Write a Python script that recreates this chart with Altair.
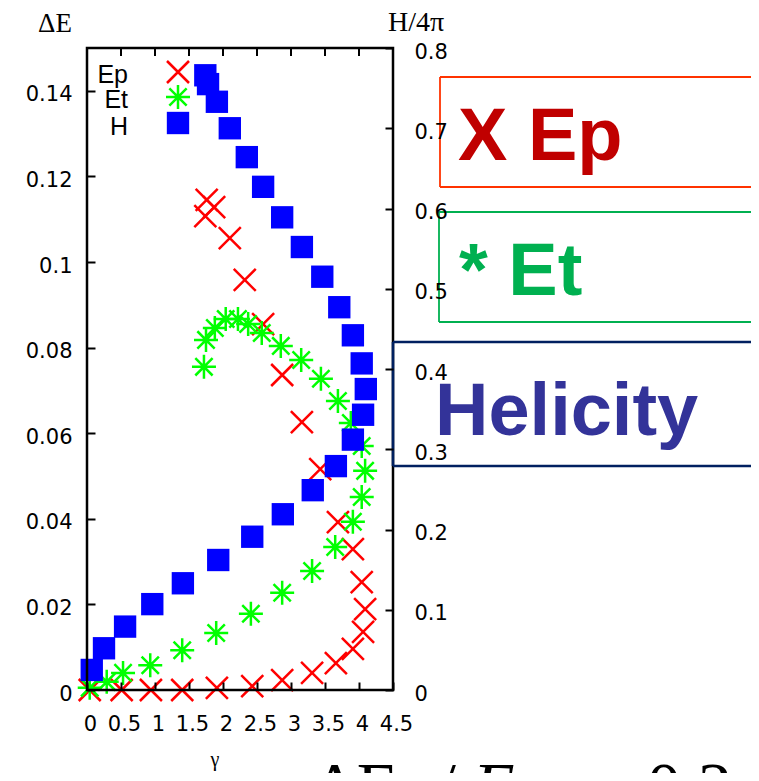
import altair as alt
import pandas as pd

# ---------------- data ----------------
gamma_ep = [0.04, 0.51, 0.94, 1.40, 1.91, 2.43, 2.87, 3.31, 3.66, 3.91, 4.06, 4.09,
            4.04, 3.91, 3.69, 3.43, 3.16, 2.87, 2.59, 2.32, 2.10, 1.74, 1.87, 1.76]
ep = [0.0, 0.0, 0.0, 0.0, 0.0005, 0.0009, 0.0023, 0.0040, 0.0063, 0.0096, 0.0136, 0.0189,
      0.0252, 0.0329, 0.0392, 0.0516, 0.0626, 0.0736, 0.0855, 0.0958, 0.1056, 0.1107, 0.1128, 0.1145]

gamma_et = [0.04, 0.29, 0.53, 0.93, 1.40, 1.90, 2.41, 2.87, 3.31, 3.65, 3.91, 4.04, 4.09,
            4.04, 3.88, 3.69, 3.44, 3.15, 2.85, 2.57, 2.37, 2.22, 2.04, 1.88, 1.75, 1.72]
et = [0.0005, 0.0019, 0.0040, 0.0058, 0.0093, 0.0133, 0.0178, 0.0227, 0.0278, 0.0334, 0.0393,
      0.0451, 0.0512, 0.0570, 0.0624, 0.0675, 0.0727, 0.0771, 0.0804, 0.0834, 0.0855, 0.0867,
      0.0867, 0.0846, 0.0818, 0.0755]

gamma_h = [0.07, 0.25, 0.56, 0.96, 1.41, 1.93, 2.43, 2.88, 3.32, 3.66, 3.91, 4.06, 4.10,
           4.04, 3.91, 3.71, 3.46, 3.16, 2.87, 2.59, 2.35, 2.10, 1.91, 1.78, 1.74]
h = [0.025, 0.052, 0.079, 0.107, 0.133, 0.162, 0.191, 0.219, 0.249, 0.279, 0.312, 0.343, 0.375,
     0.407, 0.442, 0.477, 0.515, 0.552, 0.589, 0.627, 0.664, 0.700, 0.733, 0.755, 0.766]

x_ticks = [0, 0.5, 1, 1.5, 2, 2.5, 3, 3.5, 4, 4.5]
left_ticks = [0, 0.02, 0.04, 0.06, 0.08, 0.1, 0.12, 0.14]
right_ticks = [0, 0.1, 0.2, 0.3, 0.4, 0.5, 0.6, 0.7, 0.8]

legend_labels = ["Ep", "Et", "H"]
box_labels = ["X Ep", "* Et", "Helicity"]
left_title = "ΔE"
right_title = "H/4π"
x_title = "γ"
bottom_parts = ["ΔE", "/", "E", "~", "0.2"]

# ---------------- helpers ----------------
def series(g, v):
    return pd.DataFrame({"gamma": g, "value": v})

df_ep = series(gamma_ep, ep)
df_et = series(gamma_et, et)
df_h = series(gamma_h, h)
df_xt = pd.DataFrame({"gamma": x_ticks})
one = pd.DataFrame({"k": [0]})

X_PATH = "M-1,-1L1,1M-1,1L1,-1"
STAR_PATH = "M-1,0L1,0M0,-1L0,1M-0.72,-0.72L0.72,0.72M-0.72,0.72L0.72,-0.72"

RED = "#FF0000"
GREEN = "#00FF00"
BLUE = "#0000FF"

W, HGT = 306, 642

xs = alt.Scale(domain=[0, 4.5], nice=False, zero=False)
yls = alt.Scale(domain=[0, 0.15], nice=False, zero=False)
yrs = alt.Scale(domain=[0, 0.8], nice=False, zero=False)

common_axis = dict(title=None, domain=False, grid=False, tickSize=8, tickWidth=2,
                   tickColor="black", offset=-8, labelFont="DejaVu Sans", labelFontSize=21,
                   labelColor="black", labelOverlap=False, labelFlush=False, zindex=1,
                   format="~g")
xaxis = alt.Axis(values=x_ticks, orient="bottom", labelPadding=23, labelOffset=3, **common_axis)
ylaxis = alt.Axis(values=left_ticks, orient="left", labelPadding=15, labelOffset=4, **common_axis)
yraxis = alt.Axis(values=right_ticks, orient="right", labelPadding=21, labelOffset=4, **common_axis)

X = alt.X("gamma:Q", scale=xs, axis=xaxis)
YL = alt.Y("value:Q", scale=yls, axis=ylaxis)
YR = alt.Y("value:Q", scale=yrs, axis=yraxis)

ep_pts = alt.Chart(df_ep).mark_point(shape=X_PATH, size=484, filled=False, color=RED,
                                     strokeWidth=2.5, opacity=1).encode(x=X, y=YL)
et_pts = alt.Chart(df_et).mark_point(shape=STAR_PATH, size=576, filled=False, color=GREEN,
                                     strokeWidth=2.5, opacity=1).encode(x=X, y=YL)
top_ticks = alt.Chart(df_xt).mark_rule(color="black", strokeWidth=2).encode(
    x=X, y=alt.value(0), y2=alt.value(8))

left_group = alt.layer(ep_pts, et_pts, top_ticks)

h_pts = alt.Chart(df_h).mark_point(shape="square", size=500, filled=True, color=BLUE,
                                   opacity=1).encode(x=X, y=YR)
right_group = alt.layer(h_pts)

frame = alt.Chart(one).mark_rect(filled=False, color="black", strokeWidth=2.5).encode(
    x=alt.value(0), x2=alt.value(W), y=alt.value(0), y2=alt.value(HGT))

# legend (labels left of symbols)
leg = []
leg_y = [35, 60, 87]
for lab, yy in zip(legend_labels, leg_y):
    leg.append(alt.Chart(one).mark_text(text=lab, align="right", baseline="alphabetic",
                                        font="Liberation Sans", fontSize=25, color="black")
               .encode(x=alt.value(41), y=alt.value(yy)))
leg.append(alt.Chart(one).mark_point(shape=X_PATH, size=484, filled=False, color=RED,
                                     strokeWidth=2.5, opacity=1)
           .encode(x=alt.value(91), y=alt.value(24)))
leg.append(alt.Chart(one).mark_point(shape=STAR_PATH, size=576, filled=False, color=GREEN,
                                     strokeWidth=2.5, opacity=1)
           .encode(x=alt.value(91), y=alt.value(49)))
leg.append(alt.Chart(one).mark_point(shape="square", size=500, filled=True, color=BLUE,
                                     opacity=1)
           .encode(x=alt.value(91), y=alt.value(75)))

# titles
titles = [
    alt.Chart(one).mark_text(text=left_title, align="center", baseline="alphabetic",
                             font="Liberation Serif", fontSize=27, color="black")
    .encode(x=alt.value(-32), y=alt.value(-16)),
    alt.Chart(one).mark_text(text=right_title, align="center", baseline="alphabetic",
                             font="Liberation Serif", fontSize=28, color="black")
    .encode(x=alt.value(329), y=alt.value(-17)),
    alt.Chart(one).mark_text(text=x_title, align="center", baseline="alphabetic",
                             font="Liberation Serif", fontSize=20, color="black")
    .encode(x=alt.value(128), y=alt.value(718)),
]

# big bottom expression (clipped by the page edge)
bx = [226, 350, 386, 513, 560]
bstyle = ["normal", "normal", "italic", "normal", "normal"]
bottom = []
for txt, xx, st in zip(bottom_parts, bx, bstyle):
    bottom.append(alt.Chart(one).mark_text(text=txt, align="left", baseline="alphabetic",
                                           font="Liberation Serif", fontSize=68, fontStyle=st,
                                           color="black")
                  .encode(x=alt.value(xx), y=alt.value(761)))

# open boxes (top, left and bottom edges; they run off the right edge)
RIGHT_END = 900
box_edges = [
    ("#FF3300", 1.8, 353, 29, 139),
    ("#00B050", 1.8, 352, 164, 274),
    ("#002060", 2.6, 306, 294, 418),
]
boxes = []
for col, sw, x0, y0, y1 in box_edges:
    boxes.append(alt.Chart(one).mark_rule(color=col, strokeWidth=sw).encode(
        x=alt.value(x0), x2=alt.value(RIGHT_END), y=alt.value(y0)))
    boxes.append(alt.Chart(one).mark_rule(color=col, strokeWidth=sw).encode(
        x=alt.value(x0), x2=alt.value(RIGHT_END), y=alt.value(y1)))
    boxes.append(alt.Chart(one).mark_rule(color=col, strokeWidth=sw).encode(
        x=alt.value(x0), y=alt.value(y0), y2=alt.value(y1)))

box_x = [371, 372, 348]
box_y = [112, 247, 387]
box_col = ["#C00000", "#00B050", "#333399"]
for lab, xx, yy, c in zip(box_labels, box_x, box_y, box_col):
    boxes.append(alt.Chart(one).mark_text(text=lab, align="left", baseline="alphabetic",
                                          font="Liberation Sans", fontSize=74, fontWeight="bold",
                                          color=c)
                 .encode(x=alt.value(xx), y=alt.value(yy)))

chart = alt.layer(left_group, right_group, frame, *leg, *titles, *bottom, *boxes).resolve_scale(
    y="independent"
).properties(
    width=W, height=HGT,
    autosize=alt.AutoSizeParams(type="none"),
    padding={"left": 79, "top": 40, "right": 358, "bottom": 83},
    background="white",
).configure_view(strokeWidth=0)

chart.save("out.html", embed_options={"renderer": "svg", "actions": False})
